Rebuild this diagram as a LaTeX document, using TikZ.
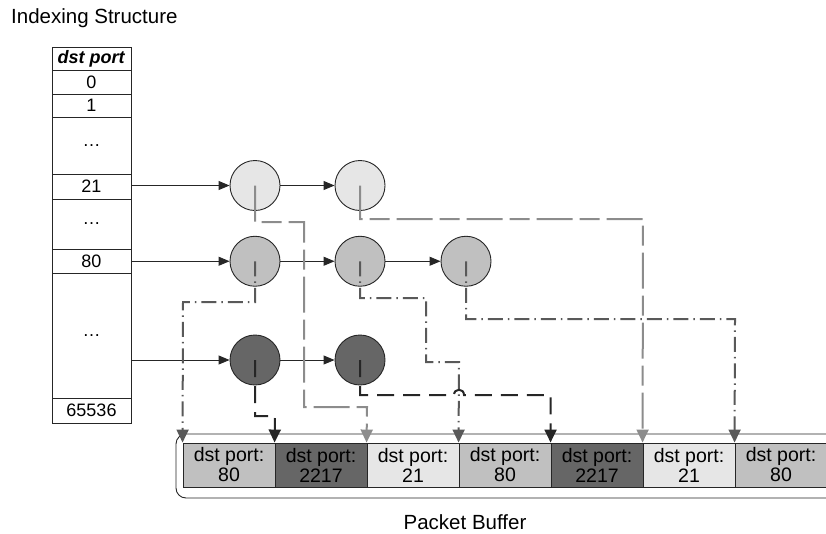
\documentclass[tikz,border=0pt]{standalone}
\usepackage{fontspec}
\setmainfont{Liberation Sans}
\usetikzlibrary{arrows.meta}

\definecolor{lightfill}{HTML}{E6E6E6}
\definecolor{midfill}{HTML}{C0C0C0}
\definecolor{darkfill}{HTML}{666666}
\definecolor{lineA}{HTML}{8C8C8C}
\definecolor{lineB}{HTML}{595959}
\definecolor{lineC}{HTML}{262626}

\begin{document}
\begin{tikzpicture}[x=1pt,y=-1pt,
  tabrow/.style={draw=black!85, line width=0.9pt, minimum width=79pt, inner sep=0pt,
    font=\fontsize{18}{20}\selectfont},
  listnode/.style={circle, draw=black!85, line width=0.9pt, minimum size=50pt, inner sep=0pt},
  link/.style={draw=black!85, line width=0.9pt, -{Triangle[length=11pt,width=9pt]}},
  bufcell/.style={draw=black!85, line width=0.9pt, minimum width=92pt, minimum height=44pt,
    inner sep=0pt, align=center, font=\fontsize{19.5}{20}\selectfont},
  ptrA/.style={draw=lineA, line width=2pt, dash pattern=on 36pt off 7pt on 20pt off 7pt,
    -{Triangle[length=13pt,width=12pt]}},
  ptrB/.style={draw=lineB, line width=2pt, dash pattern=on 15pt off 5pt on 1.5pt off 5pt,
    -{Triangle[length=13pt,width=12pt]}},
  ptrC/.style={draw=lineC, line width=2pt, dash pattern=on 17pt off 9pt,
    -{Triangle[length=13pt,width=12pt]}},
  label/.style={inner sep=0pt, font=\fontsize{20.5}{22}\selectfont}]

\useasboundingbox (0,0) rectangle (826,533);

% headings
\node[label, anchor=west] (title) at (11,18) {Indexing Structure};
\node[label] (buftitle) at (465,522) {Packet Buffer};

% index table, one slot per destination port
\node[tabrow, minimum height=23.5pt] (hdr) at (91.5,58.75) {\textbf{\textit{dst port}}};
\node[tabrow, minimum height=23.5pt] (r0) at (91.5,82.25) {0};
\node[tabrow, minimum height=23.5pt] (r1) at (91.5,105.75) {1};
\node[tabrow, minimum height=56.5pt] (rdots1) at (91.5,145.75) {\dots};
\node[tabrow, minimum height=25pt] (r21) at (91.5,186.5) {21};
\node[tabrow, minimum height=50pt] (rdots2) at (91.5,224) {\dots};
\node[tabrow, minimum height=24.5pt] (r80) at (91.5,261.25) {80};
\node[tabrow, minimum height=124.5pt] (rdots3) at (91.5,335.75) {\dots};
\node[tabrow, minimum height=25pt] (r65536) at (91.5,410.5) {65536};

% packet buffer cells
\node[bufcell, fill=midfill] (b1) at (229,465) {dst port:\\80};
\node[bufcell, fill=darkfill] (b2) at (321,465) {dst port:\\2217};
\node[bufcell, fill=lightfill] (b3) at (413,465) {dst port:\\21};
\node[bufcell, fill=midfill] (b4) at (505,465) {dst port:\\80};
\node[bufcell, fill=darkfill] (b5) at (597,465) {dst port:\\2217};
\node[bufcell, fill=lightfill] (b6) at (689,465) {dst port:\\21};
\node[bufcell, fill=midfill] (b7) at (781,465) {dst port:\\80};

% bracket around the buffer
\draw[draw=black!85, line width=0.9pt, rounded corners=10pt]
  (840,434) -- (176,434) -- (176,498) -- (840,498);

% linked lists of packet references
\node[listnode, fill=lightfill] (c11) at (255,185.5) {};
\node[listnode, fill=lightfill] (c12) at (360,185.5) {};
\node[listnode, fill=midfill] (c21) at (255,261.25) {};
\node[listnode, fill=midfill] (c22) at (360,261.25) {};
\node[listnode, fill=midfill] (c23) at (466,261.25) {};
\node[listnode, fill=darkfill] (c31) at (255,360) {};
\node[listnode, fill=darkfill] (c32) at (360,360) {};

\draw[link] (r21.east |- c11.west) -- (c11.west);
\draw[link] (c11.east) -- (c12.west);
\draw[link] (r80.east) -- (c21.west);
\draw[link] (c21.east) -- (c22.west);
\draw[link] (c22.east) -- (c23.west);
\draw[link] (rdots3.east |- c31.west) -- (c31.west);
\draw[link] (c31.east) -- (c32.west);

% pointers from list entries into the buffer
\draw[ptrA] (c11.center) |- (304,222) |- (367,407) -- (b3.north west);
\draw[ptrA] (c12.center) |- (643,219) -- (b6.north west);
\draw[ptrB] (c21.center) |- (183,302) -- (b1.north west);
\draw[ptrB] (c22.center) |- (426,298) |- (459,362) -- (b4.north west);
\draw[ptrB] (c23.center) |- (735,319) -- (b7.north west);
\draw[ptrC] (c31.center) |- (275,416) -- (b2.north west);
\draw[ptrC] (c32.center) |- (454,395) .. controls (454,388) and (464,388) .. (464,395)
  -| (b5.north west);

\end{tikzpicture}
\end{document}
